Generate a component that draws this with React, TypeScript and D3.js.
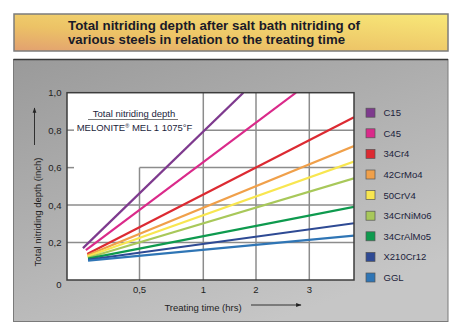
import React from "react";
import * as d3 from "d3";

const steels = ["C15", "C45", "34Cr4", "42CrMo4", "50CrV4", "34CrNiMo6", "34CrAlMo5", "X210Cr12", "GGL"];
const colors = ["#7e3a8e", "#da2a8a", "#dc2a32", "#f0a04a", "#f8e650", "#a8c85a", "#0e9a4e", "#2e4a94", "#2f75b5"];
const startTime = [0.11, 0.13, 0.14, 0.14, 0.14, 0.145, 0.145, 0.145, 0.145];
const startDepth = [0.17, 0.16, 0.139, 0.132, 0.125, 0.119, 0.114, 0.108, 0.103];
const endTime = [1.76, 2.75, 3.84, 3.84, 3.84, 3.84, 3.84, 3.84, 3.84];
const endDepth = [1.0, 1.0, 0.869, 0.715, 0.632, 0.543, 0.39, 0.303, 0.237];

const xTicks = [0.5, 1, 2, 3];
const xTickLabels = ["0,5", "1", "2", "3"];
const yTicks = [0, 0.2, 0.4, 0.6, 0.8, 1.0];
const yTickLabels = ["0", "0,2", "0,4", "0,6", "0,8", "1,0"];

const titleLines = [
  "Total nitriding depth after salt bath nitriding of",
  "various steels in relation to the treating time",
];

const FONT = "'Liberation Sans', Arial, sans-serif";

export default function App() {
  const x = d3.scaleLinear().domain([0, 0.5, 1, 2, 3, 3.84]).range([67, 139.5, 203.3, 256, 309.3, 354]);
  const y = d3.scaleLinear().domain([0, 1]).range([280, 92.7]);
  const line = d3.line<[number, number]>().x((d) => x(d[0])).y((d) => y(d[1]));
  const left = x(0), right = x(3.84), top = y(1), bottom = y(0);
  const gridColor = "#8c8c8c";
  // grid start per horizontal line (annotation box clears upper left)
  const hStart = (v: number) => (v <= 0.4 ? left : v <= 0.6 ? x(0.5) : x(1));
  const vTop = (t: number) => (t === 0.5 ? y(0.6) : top);
  const textColor = "#1c1e3c";

  return (
    <svg width={458} height={334} style={{ position: "absolute", left: 0, top: 0 }} fontFamily={FONT}>
      <defs>
        <linearGradient id="ban" x1="0" y1="1" x2="1" y2="0">
          <stop offset="0" stopColor="#e2a070" />
          <stop offset="0.35" stopColor="#ecc266" />
          <stop offset="1" stopColor="#f8e878" />
        </linearGradient>
        <linearGradient id="pan" x1="0" y1="0" x2="0.6" y2="1">
          <stop offset="0" stopColor="#9a9a9a" />
          <stop offset="1" stopColor="#c6c6c6" />
        </linearGradient>
        <marker id="arr" viewBox="0 0 10 10" refX="9" refY="5" markerWidth="6" markerHeight="6" orient="auto">
          <path d="M0,1.5 L10,5 L0,8.5 z" fill="#222" />
        </marker>
        <clipPath id="plotclip">
          <rect x={left} y={top} width={right - left} height={bottom - top} />
        </clipPath>
      </defs>
      <rect x={0} y={0} width={458} height={334} fill="#fff" />
      {/* title banner */}
      <rect x={14} y={14} width={434} height={37} fill="url(#ban)" stroke="#7c7c7c" strokeWidth={1.5} />
      {titleLines.map((t, i) => (
        <text key={i} x={68} y={29.5 + i * 14} fontSize={13} fontWeight="bold" fill="#1a1a28"
          textLength={i === 0 ? 292 : 277} lengthAdjust="spacingAndGlyphs">{t}</text>
      ))}
      {/* panel */}
      <rect x={13.5} y={59.5} width={434.5} height={262} fill="url(#pan)" stroke="#7a7a7a" strokeWidth={1} />
      <line x1={13.5} x2={448} y1={59.5} y2={59.5} stroke="#3a3a3a" strokeWidth={1.5} />
      {/* plot */}
      <rect x={left} y={top} width={right - left} height={bottom - top} fill="#fff" />
      {yTicks.filter((v) => v > 0 && v < 1).map((v) => (
        <g key={"h" + v}>
          <line x1={hStart(v)} x2={right} y1={y(v)} y2={y(v)} stroke={gridColor} strokeWidth={1.5} />
          {hStart(v) > left && <line x1={left} x2={left + 7} y1={y(v)} y2={y(v)} stroke={gridColor} strokeWidth={1.5} />}
        </g>
      ))}
      {xTicks.map((t) => (
        <line key={"v" + t} x1={x(t)} x2={x(t)} y1={bottom} y2={vTop(t)} stroke={gridColor} strokeWidth={1.5} />
      ))}
      <g clipPath="url(#plotclip)">
        {steels.map((s, i) => (
          <path key={s} d={line([[startTime[i], startDepth[i]], [endTime[i], endDepth[i]]]) || ""}
            stroke={colors[i]} strokeWidth={2.2} fill="none" />
        ))}
      </g>
      <rect x={left} y={top} width={right - left} height={bottom - top} fill="none" stroke="#3c3c3c" strokeWidth={1.5} />
      {/* annotation */}
      <text x={134} y={116.5} fontSize={9.5} textAnchor="middle" fill={textColor}>Total nitriding depth</text>
      <line x1={88} x2={178} y1={119.5} y2={119.5} stroke="#555" strokeWidth={0.8} />
      <text x={134.5} y={130.7} fontSize={9.5} textAnchor="middle" fill={textColor}>
        MELONITE<tspan fontSize={5.5} dy={-3}>®</tspan><tspan dy={3}> MEL 1 1075°F</tspan>
      </text>
      {/* y ticks */}
      {yTicks.map((v, i) => (
        <text key={"yl" + v} x={61.5} y={v === 0 ? 284 : y(v)} fontSize={9.5} textAnchor="end"
          dominantBaseline="central" fill="#222">{yTickLabels[i]}</text>
      ))}
      {xTicks.map((t, i) => (
        <text key={"xl" + t} x={x(t)} y={289.7} fontSize={9.5} textAnchor="middle"
          dominantBaseline="central" fill="#222">{xTickLabels[i]}</text>
      ))}
      {/* axis titles */}
      <text transform="translate(37.5,212) rotate(-90)" fontSize={9.5} textAnchor="middle" fill="#222"
        dominantBaseline="central">Total nitriding depth (inch)</text>
      <line x1={34.5} x2={34.5} y1={145} y2={108} stroke="#222" strokeWidth={0.9} markerEnd="url(#arr)" />
      <text x={203} y={307} fontSize={9.5} textAnchor="middle" dominantBaseline="central" fill="#222">Treating time (hrs)</text>
      <line x1={251} x2={301} y1={305} y2={305} stroke="#222" strokeWidth={0.9} markerEnd="url(#arr)" />
      {/* legend */}
      {steels.map((s, i) => (
        <g key={"lg" + s} transform={`translate(366,${112.7 + i * 20.6})`}>
          <rect x={0} y={-4.5} width={9} height={9} fill={colors[i]} stroke="#555" strokeWidth={0.7} />
          <text x={17.5} y={0} fontSize={9.5} dominantBaseline="central" fill={textColor}>{s}</text>
        </g>
      ))}
    </svg>
  );
}
